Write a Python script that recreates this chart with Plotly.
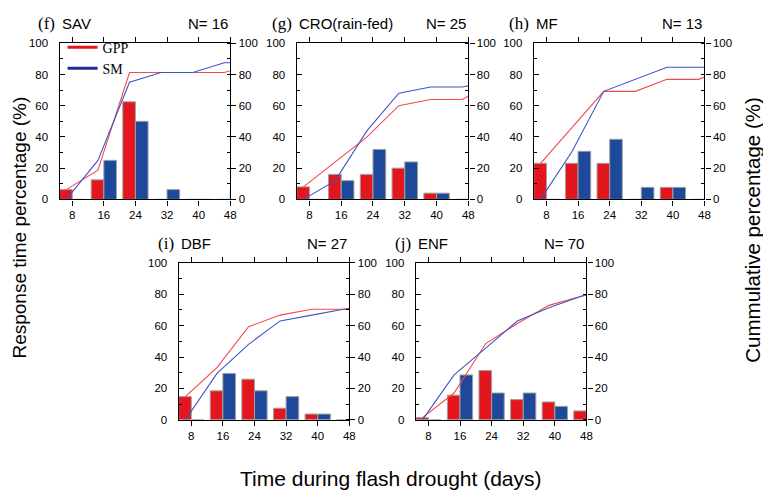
import plotly.graph_objects as go

# ---------------- data ----------------
bins = [8, 16, 24, 32, 40, 48]
cum_x = [6.5, 14.5, 22.5, 30.5, 38.5, 46.5, 54.5]
x_ticks = [8, 16, 24, 32, 40, 48]
y_ticks = [0, 20, 40, 60, 80, 100]

panel_tags = ["(f)", "(g)", "(h)", "(i)", "(j)"]
panel_names = ["SAV", "CRO(rain-fed)", "MF", "DBF", "ENF"]
panel_n = [16, 25, 13, 27, 70]

gpp_sav = [6.25, 12.5, 62.5, 0, 0, 0]
sm_sav = [0, 25, 50, 6.25, 0, 6.25]
cum_gpp_sav = [6.25, 18.75, 81.25, 81.25, 81.25, 81.25, 87.5]
cum_sm_sav = [0, 25, 75, 81.25, 81.25, 87.5, 87.5]

gpp_cro = [8, 16, 16, 20, 4, 0]
sm_cro = [0, 12, 32, 24, 4, 0]
cum_gpp_cro = [8, 24, 40, 60, 64, 64, 76]
cum_sm_cro = [0, 12, 44, 68, 72, 72, 76]

gpp_mf = [23.1, 23.1, 23.1, 0, 7.7, 0]
sm_mf = [0, 30.8, 38.5, 7.7, 7.7, 0]
cum_gpp_mf = [23.1, 46.2, 69.2, 69.2, 76.9, 76.9, 84.6]
cum_sm_mf = [0, 30.8, 69.2, 76.9, 84.6, 84.6, 84.6]

gpp_dbf = [14.8, 18.5, 25.9, 7.4, 3.7, 0]
sm_dbf = [0, 29.6, 18.5, 14.8, 3.7, 3.7]
cum_gpp_dbf = [14.8, 33.3, 59.3, 66.7, 70.4, 70.4, 74.1]
cum_sm_dbf = [0, 29.6, 48.1, 63.0, 66.7, 70.4, 70.4]

gpp_enf = [1.4, 15.7, 31.4, 12.9, 11.4, 5.7]
sm_enf = [0, 28.6, 17.1, 17.1, 8.6, 7.1]
cum_gpp_enf = [1.4, 17.1, 48.6, 61.4, 72.9, 78.6, 85.7]
cum_sm_enf = [0, 28.6, 45.7, 62.9, 71.4, 78.6, 82.9]

gpp_all = [gpp_sav, gpp_cro, gpp_mf, gpp_dbf, gpp_enf]
sm_all = [sm_sav, sm_cro, sm_mf, sm_dbf, sm_enf]
cum_gpp_all = [cum_gpp_sav, cum_gpp_cro, cum_gpp_mf, cum_gpp_dbf, cum_gpp_enf]
cum_sm_all = [cum_sm_sav, cum_sm_cro, cum_sm_mf, cum_sm_dbf, cum_sm_enf]

# ---------------- layout geometry (page pixels) ----------------
PAGE_W, PAGE_H = 771, 501
OFF = 8  # default body margin of the html page
W, H = PAGE_W - OFF, PAGE_H - OFF


def px(x):
    return (x - OFF) / W


def py(y):
    return 1 - (y - OFF) / H


boxes = [  # left, right, top, bottom
    (60, 232, 38, 198),
    (299, 472, 38, 198),
    (538, 710, 38, 198),
    (180, 352, 263, 424),
    (419, 591, 263, 424),
]

RED = "#E4161D"
BLUE = "#1E499B"
RED_LINE = "#F24A4A"
BLUE_LINE = "#3E55C6"
SANS = "Liberation Sans, Arial, sans-serif"
SERIF = "Liberation Serif, Times New Roman, serif"
TICKFONT = dict(family=SANS, size=11.5, color="black")

fig = go.Figure()
layout = dict(
    width=W, height=H,
    margin=dict(l=0, r=0, t=0, b=0),
    paper_bgcolor="white", plot_bgcolor="white",
    showlegend=True,
    barmode="overlay",
    annotations=[],
)

for i in range(5):
    xa = f"x{i+1}" if i else "x"
    yl = f"y{2*i+1}" if i else "y"
    yr = f"y{2*i+2}"
    left, right, top, bottom = boxes[i]
    dom_x = [px(left), px(right)]
    dom_y = [py(bottom), py(top)]

    fig.add_trace(go.Bar(x=bins, y=gpp_all[i], width=3.2, offset=-3.2,
                         marker=dict(color=RED, line=dict(color="#a0a0a0", width=1)),
                         xaxis=xa, yaxis=yl, showlegend=False, name="GPP"))
    fig.add_trace(go.Bar(x=bins, y=sm_all[i], width=3.2, offset=0,
                         marker=dict(color=BLUE, line=dict(color="#a0a0a0", width=1)),
                         xaxis=xa, yaxis=yl, showlegend=False, name="SM"))
    fig.add_trace(go.Scatter(x=cum_x, y=cum_gpp_all[i], mode="lines",
                             line=dict(color=RED_LINE, width=1.1),
                             xaxis=xa, yaxis=yr, showlegend=False, name="GPP"))
    fig.add_trace(go.Scatter(x=cum_x, y=cum_sm_all[i], mode="lines",
                             line=dict(color=BLUE_LINE, width=1.1),
                             xaxis=xa, yaxis=yr, showlegend=False, name="SM"))

    xkey = f"xaxis{i+1}" if i else "xaxis"
    ylkey = f"yaxis{2*i+1}" if i else "yaxis"
    yrkey = f"yaxis{2*i+2}"

    layout[xkey] = dict(
        domain=dom_x, anchor=yl, range=[4.8, 48], tickvals=x_ticks,
        ticks="outside", ticklen=5, tickwidth=1.2, tickcolor="black",
        showline=True, linecolor="black", linewidth=1.3, mirror="ticks",
        showgrid=False, zeroline=False, tickfont=TICKFONT,
    )
    layout[ylkey] = dict(
        domain=dom_y, anchor=xa, range=[0, 100], tickvals=y_ticks,
        ticks="inside", ticklen=5, tickwidth=1.2, tickcolor="black",
        minor=dict(ticks="inside", ticklen=3, dtick=10, tick0=0, tickcolor="black"),
        showline=True, linecolor="black", linewidth=1.3,
        showgrid=False, zeroline=False, ticklabelstandoff=8, tickfont=TICKFONT,
    )
    layout[yrkey] = dict(
        domain=dom_y, anchor=xa, overlaying=yl, side="right", range=[0, 100],
        tickvals=y_ticks,
        ticks="outside", ticklen=5, tickwidth=1.2, tickcolor="black",
        minor=dict(ticks="inside", ticklen=3, dtick=10, tick0=0, tickcolor="black"),
        showline=True, linecolor="black", linewidth=1.3,
        showgrid=False, zeroline=False, tickfont=TICKFONT,
    )

    ty = py(top - 20)
    layout["annotations"] += [
        dict(xref="paper", yref="paper", x=px(left - 3), y=ty, xanchor="right",
             yanchor="middle", showarrow=False, text=panel_tags[i],
             font=dict(family=SERIF, size=17, color="black")),
        dict(xref="paper", yref="paper", x=px(left), y=ty, xanchor="left",
             yanchor="middle", showarrow=False, text=panel_names[i],
             font=dict(family=SANS, size=15, color="black")),
        dict(xref="paper", yref="paper", x=px(right), y=ty, xanchor="right",
             yanchor="middle", showarrow=False, text=f"N= {panel_n[i]}",
             font=dict(family=SANS, size=15, color="black")),
    ]

# legend entries
fig.add_trace(go.Scatter(x=[None], y=[None], mode="lines", name="GPP",
                         line=dict(color=RED, width=3), xaxis="x", yaxis="y"))
fig.add_trace(go.Scatter(x=[None], y=[None], mode="lines", name="SM",
                         line=dict(color="#1C2F8F", width=3), xaxis="x", yaxis="y"))

layout["legend"] = dict(x=px(63), y=py(26), xanchor="left", yanchor="top",
                        bgcolor="rgba(0,0,0,0)",
                        font=dict(family=SERIF, size=14, color="black"),
                        tracegroupgap=0)

layout["annotations"] += [
    dict(xref="paper", yref="paper", x=px(20), y=py(227), textangle=-90,
         showarrow=False, xanchor="center", yanchor="middle",
         text="Response time percentage (%)",
         font=dict(family=SANS, size=19, color="black")),
    dict(xref="paper", yref="paper", x=px(758), y=py(230), textangle=-90,
         showarrow=False, xanchor="center", yanchor="middle",
         text="Cummulative percentage (%)",
         font=dict(family=SANS, size=20.5, color="black")),
    dict(xref="paper", yref="paper", x=px(394), y=py(484),
         showarrow=False, xanchor="center", yanchor="middle",
         text="Time during flash drought (days)",
         font=dict(family=SANS, size=21, color="black")),
]

fig.update_layout(**layout)
fig.write_html("out.html")
